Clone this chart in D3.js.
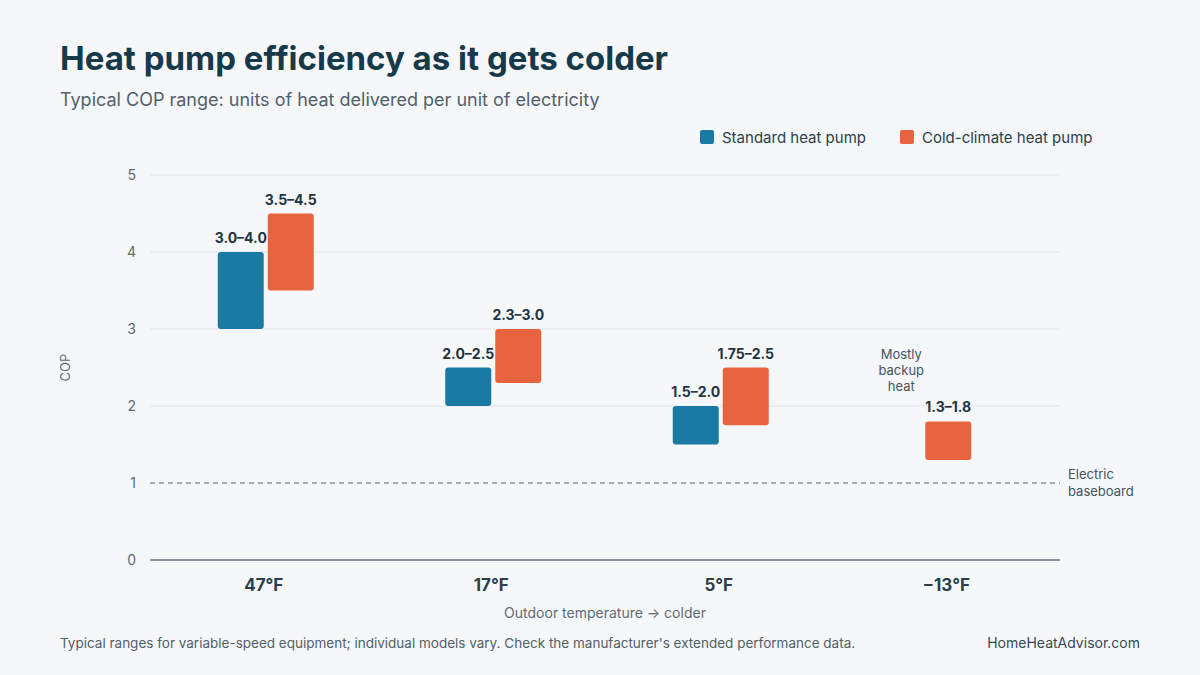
<!DOCTYPE html>
<html><head><meta charset="utf-8">
<script src="https://cdn.jsdelivr.net/npm/d3@7"></script>
<style>
body{margin:0;background:#f5f7f9;font-family:Inter,"Noto Sans",sans-serif;}
</style></head>
<body><div id="chart"></div>
<script>
// Data
var categories = ["47°F", "17°F", "5°F", "−13°F"];
var standardLow = [3.0, 2.0, 1.5, null];
var standardHigh = [4.0, 2.5, 2.0, null];
var standardLabels = ["3.0–4.0", "2.0–2.5", "1.5–2.0", null];
var coldLow = [3.5, 2.3, 1.75, 1.3];
var coldHigh = [4.5, 3.0, 2.5, 1.8];
var coldLabels = ["3.5–4.5", "2.3–3.0", "1.75–2.5", "1.3–1.8"];
var yTicks = [0, 1, 2, 3, 4, 5];

var W = 1200, H = 675;
var margin = {top: 175, right: 140, bottom: 115, left: 150};
var width = W - margin.left - margin.right;
var height = H - margin.top - margin.bottom;
var blue = "#1b7aa4", orange = "#e8643f", dark = "#173a4a";

var svg = d3.select("#chart").append("svg").attr("width", W).attr("height", H);
svg.append("rect").attr("width", W).attr("height", H).attr("fill", "#f5f7f9");

svg.append("text").attr("x", 60).attr("y", 70).text("Heat pump efficiency as it gets colder")
  .attr("font-size", 33).attr("font-weight", 700).attr("fill", dark);
svg.append("text").attr("x", 60).attr("y", 106).text("Typical COP range: units of heat delivered per unit of electricity")
  .attr("font-size", 18).attr("fill", "#52606b");

// Legend
var legend = [["Standard heat pump", blue, 700], ["Cold-climate heat pump", orange, 900]];
legend.forEach(function(l){
  svg.append("rect").attr("x", l[2]).attr("y", 130).attr("width", 14).attr("height", 14).attr("rx", 2).attr("fill", l[1]);
  svg.append("text").attr("x", l[2] + 22).attr("y", 143).text(l[0]).attr("font-size", 15).attr("fill", "#2c3e4a");
});

var chart = svg.append("g").attr("transform", `translate(${margin.left}, ${margin.top})`);

var x = d3.scaleBand().domain(categories).range([0, width]);
var y = d3.scaleLinear().domain([0, 5]).range([height, 0]);

// Grid
chart.selectAll(".grid").data(yTicks.filter(d => d > 0 && d !== 1)).enter().append("line")
  .attr("x1", 0).attr("x2", width).attr("y1", d => y(d)).attr("y2", d => y(d))
  .attr("stroke", "#e2e7eb");
chart.selectAll(".ytick").data(yTicks).enter().append("text")
  .attr("x", -14).attr("y", d => y(d) + 5).attr("text-anchor", "end")
  .attr("font-size", 14).attr("fill", "#5f6b75").text(d => d);
chart.append("line").attr("x1", 0).attr("x2", width).attr("y1", y(0)).attr("y2", y(0))
  .attr("stroke", "#6b7780").attr("stroke-width", 1.5);

// Baseline COP 1
chart.append("line").attr("x1", 0).attr("x2", width).attr("y1", y(1)).attr("y2", y(1))
  .attr("stroke", "#55616b").attr("stroke-dasharray", "5,4").attr("stroke-width", 1.2);
var eb = chart.append("text").attr("x", width + 8).attr("y", y(1) - 4).attr("font-size", 13).attr("fill", "#46535d");
eb.append("tspan").text("Electric");
eb.append("tspan").attr("x", width + 8).attr("dy", 17).text("baseboard");

// X labels
chart.selectAll(".xl").data(categories).enter().append("text")
  .attr("x", d => x(d) + x.bandwidth() / 2).attr("y", height + 31).attr("text-anchor", "middle")
  .attr("font-size", 17).attr("font-weight", 700).attr("fill", "#2c3e4a").text(d => d);
svg.append("text").attr("x", margin.left + width / 2).attr("y", 618).attr("text-anchor", "middle")
  .attr("font-size", 14).attr("fill", "#5f6b75").text("Outdoor temperature → colder");
svg.append("text").attr("transform", `translate(70, ${margin.top + y(2.5)}) rotate(-90)`)
  .attr("text-anchor", "middle").attr("font-size", 13).attr("fill", "#5f6b75").text("COP");

// Bars
var bw = 46, gap = 4;
function drawSeries(lows, highs, labels, color, offset) {
  var data = categories.map((c, i) => ({c: c, lo: lows[i], hi: highs[i], label: labels[i]})).filter(d => d.lo != null);
  var g = chart.append("g");
  g.selectAll("rect").data(data).enter().append("rect")
    .attr("x", d => x(d.c) + x.bandwidth() / 2 + offset(d))
    .attr("y", d => y(d.hi)).attr("width", bw).attr("height", d => y(d.lo) - y(d.hi))
    .attr("rx", 3).attr("fill", color);
  g.selectAll("text").data(data).enter().append("text")
    .attr("x", d => x(d.c) + x.bandwidth() / 2 + offset(d) + bw / 2)
    .attr("y", d => y(d.hi) - 9).attr("text-anchor", "middle")
    .attr("font-size", 14).attr("font-weight", 700).attr("fill", "#1f3440").text(d => d.label);
}
drawSeries(standardLow, standardHigh, standardLabels, blue, d => -bw - gap / 2 + 2);
drawSeries(coldLow, coldHigh, coldLabels, orange, d => d.c === "−13°F" ? -bw / 2 + 2 : gap / 2 + 2);

// Note
var xc = x("−13°F") + x.bandwidth() / 2 - 45;
var note = chart.append("text").attr("text-anchor", "middle").attr("font-size", 13).attr("fill", "#46535d");
["Mostly", "backup", "heat"].forEach(function(t, i){
  note.append("tspan").attr("x", xc).attr("y", y(2.5) - 9 + i * 16).text(t);
});

svg.append("text").attr("x", 60).attr("y", 648).attr("font-size", 13.5).attr("fill", "#52606b")
  .text("Typical ranges for variable-speed equipment; individual models vary. Check the manufacturer's extended performance data.");
svg.append("text").attr("x", 1140).attr("y", 648).attr("text-anchor", "end").attr("font-size", 14).attr("fill", "#3a4852")
  .text("HomeHeatAdvisor.com");
</script></body></html>
